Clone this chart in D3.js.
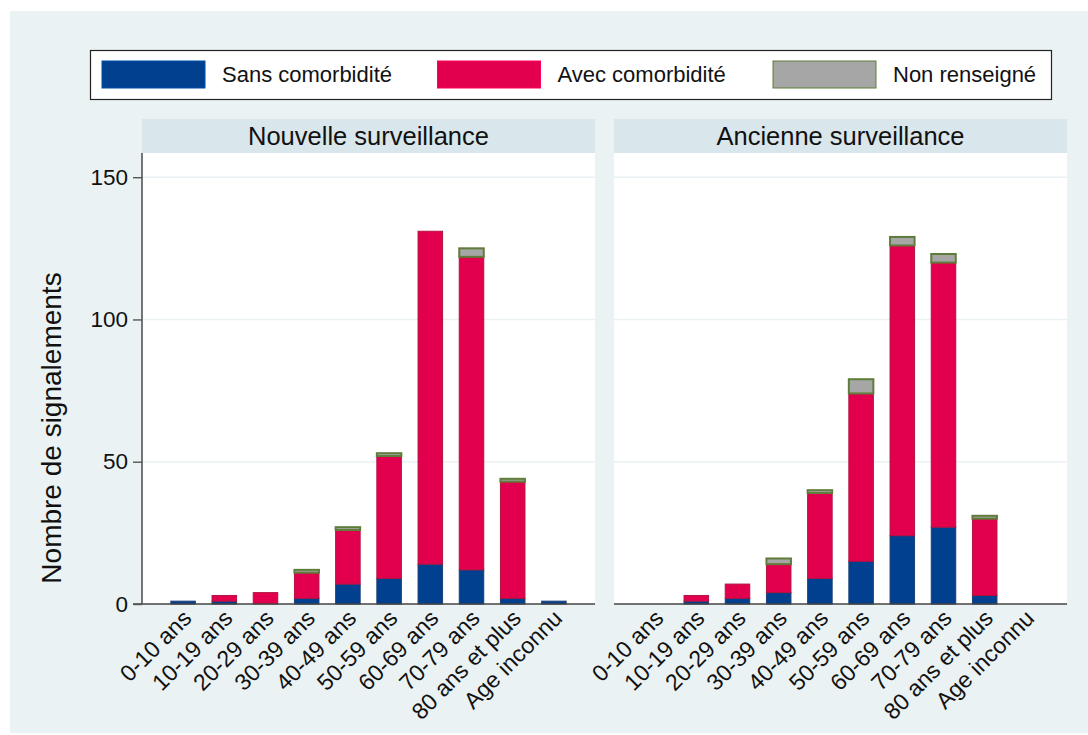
<!DOCTYPE html>
<html>
<head>
<meta charset="utf-8">
<script src="https://cdn.jsdelivr.net/npm/d3@7"></script>
<style>
  body { margin: 0; background: #fff; }
  text { font-family: "Liberation Sans", Arial, sans-serif; fill: #111; }
</style>
</head>
<body>
<script>
(function() {

  /* data */
  var ageGroups = ["0-10 ans", "10-19 ans", "20-29 ans", "30-39 ans", "40-49 ans",
                   "50-59 ans", "60-69 ans", "70-79 ans", "80 ans et plus", "Age inconnu"];
  var panelNames = ["Nouvelle surveillance", "Ancienne surveillance"];
  var seriesNames = ["Sans comorbidité", "Avec comorbidité", "Non renseigné"];

  var sansNouvelle    = [1, 1, 0, 2, 7,  9,  14,  12,  2, 1];
  var avecNouvelle    = [0, 2, 4, 9, 19, 43, 117, 110, 41, 0];
  var nonRensNouvelle = [0, 0, 0, 1, 1,  1,  0,   3,   1, 0];

  var sansAncienne    = [0, 1, 2, 4,  9,  15, 24,  27, 3,  0];
  var avecAncienne    = [0, 2, 5, 10, 30, 59, 102, 93, 27, 0];
  var nonRensAncienne = [0, 0, 0, 2,  1,  5,  3,   3,  1,  0];

  var yTicks = [0, 50, 100, 150];

  // colours
  var fills   = ["#00408f", "#e2004e", "#a6a6a6"],
      strokes = ["#1d3f78", "#b3123f", "#5f7d3a"],
      strokeW = [1, 1, 2];

  var width = 1088, height = 735;
  var panelTop = 153, panelBottom = 604,
      panelW = 453,
      panelX = [142, 614];

  var svg = d3.select("body").append("svg")
      .attr("width", width)
      .attr("height", height);

  // outer background
  svg.append("rect")
      .attr("x", 10).attr("y", 11)
      .attr("width", width - 10).attr("height", 722)
      .attr("fill", "#eaf2f3");

  /*  L E G E N D  */
  var legend = svg.append("g");
  legend.append("rect")
      .attr("x", 90.5).attr("y", 50.5)
      .attr("width", 961).attr("height", 49)
      .attr("fill", "#fff")
      .attr("stroke", "#222")
      .attr("stroke-width", 1.2);

  var legItem = legend.selectAll(".leg")
      .data(seriesNames)
    .enter().append("g")
      .attr("class", "leg")
      .attr("transform", function(d, i) { return "translate(" + (102 + i * 335.5) + ",61)"; });

  legItem.append("rect")
      .attr("width", 103).attr("height", 27)
      .attr("fill", function(d, i) { return fills[i]; })
      .attr("stroke", function(d, i) { return i == 2 ? strokes[2] : d3.color(fills[i]).brighter(0.5); })
      .attr("stroke-width", 1);

  legItem.append("text")
      .attr("x", 120)
      .attr("y", 13.5)
      .attr("dy", ".35em")
      .style("font-size", "22px")
      .text(function(d) { return d; });

  /*  S C A L E S  */
  var x = d3.scaleBand()
      .domain(ageGroups)
      .range([0, panelW])
      .paddingInner(0.405)
      .paddingOuter(0.7);

  var y = d3.scaleLinear()
      .domain([0, 158.5])
      .range([panelBottom - panelTop, 0]);

  var stack = d3.stack().keys([0, 1, 2]);

  function rows(a, b, c) {
    return ageGroups.map(function(g, i) { return {age: g, 0: a[i], 1: b[i], 2: c[i]}; });
  }
  var panelData = [
    rows(sansNouvelle, avecNouvelle, nonRensNouvelle),
    rows(sansAncienne, avecAncienne, nonRensAncienne)
  ];

  /*  P A N E L S  */
  panelNames.forEach(function(name, p) {
    var g = svg.append("g")
        .attr("transform", "translate(" + panelX[p] + "," + panelTop + ")");

    // header strip
    g.append("rect")
        .attr("x", 0).attr("y", -34)
        .attr("width", panelW).attr("height", 34)
        .attr("fill", "#d9e6eb");
    g.append("text")
        .attr("x", panelW / 2)
        .attr("y", -17)
        .attr("dy", ".35em")
        .attr("text-anchor", "middle")
        .style("font-size", "25.5px")
        .text(name);

    // plot region
    g.append("rect")
        .attr("width", panelW)
        .attr("height", panelBottom - panelTop)
        .attr("fill", "#fff");

    // gridlines
    g.selectAll(".grid")
        .data(yTicks.filter(function(t) { return t > 0; }))
      .enter().append("line")
        .attr("x1", 0).attr("x2", panelW)
        .attr("y1", function(d) { return y(d); })
        .attr("y2", function(d) { return y(d); })
        .attr("stroke", "#e9f1f4")
        .attr("stroke-width", 1.5);

    // bars
    var layers = stack(panelData[p]);
    g.selectAll(".layer")
        .data(layers)
      .enter().append("g")
        .attr("class", "layer")
        .each(function(layer, k) {
          d3.select(this).selectAll("rect")
              .data(layer.filter(function(d) { return d[1] - d[0] > 0; }))
            .enter().append("rect")
              .attr("x", function(d) { return x(d.data.age); })
              .attr("width", x.bandwidth())
              .attr("y", function(d) { return y(d[1]); })
              .attr("height", function(d) { return y(d[0]) - y(d[1]); })
              .attr("fill", fills[k])
              .attr("stroke", strokes[k])
              .attr("stroke-width", strokeW[k]);
        });

    // x axis
    var xAxis = g.append("g")
        .attr("transform", "translate(0," + (panelBottom - panelTop) + ")")
        .call(d3.axisBottom(x).tickSize(0).tickPadding(0));
    xAxis.select(".domain")
        .attr("d", "M" + (p == 0 ? -9 : 0) + ",0H" + panelW)
        .attr("stroke", "#444")
        .attr("stroke-width", 1.6);
    xAxis.selectAll(".tick text")
        .attr("transform", "translate(4,10)rotate(-45)")
        .attr("y", 0)
        .attr("dy", ".35em")
        .attr("text-anchor", "end")
        .style("font-size", "23px")
        .style("font-family", "Liberation Sans, Arial, sans-serif")
        .attr("fill", "#111");

    // y axis only on the first panel
    if (p == 0) {
      var yAxis = g.append("g")
          .call(d3.axisLeft(y).tickValues(yTicks).tickSize(9).tickPadding(5));
      yAxis.select(".domain")
          .attr("d", "M0,0V" + (panelBottom - panelTop))
          .attr("stroke", "#555")
          .attr("stroke-width", 1.6);
      yAxis.selectAll(".tick line").attr("stroke", "#555").attr("stroke-width", 1.4);
      yAxis.selectAll(".tick text")
          .style("font-size", "22.5px")
          .style("font-family", "Liberation Sans, Arial, sans-serif")
          .attr("fill", "#111");
    }
  });

  // y axis title
  svg.append("text")
      .attr("transform", "translate(51,428)rotate(-90)")
      .attr("text-anchor", "middle")
      .attr("dy", ".35em")
      .style("font-size", "28px")
      .text("Nombre de signalements");

})();
</script>
</body>
</html>
